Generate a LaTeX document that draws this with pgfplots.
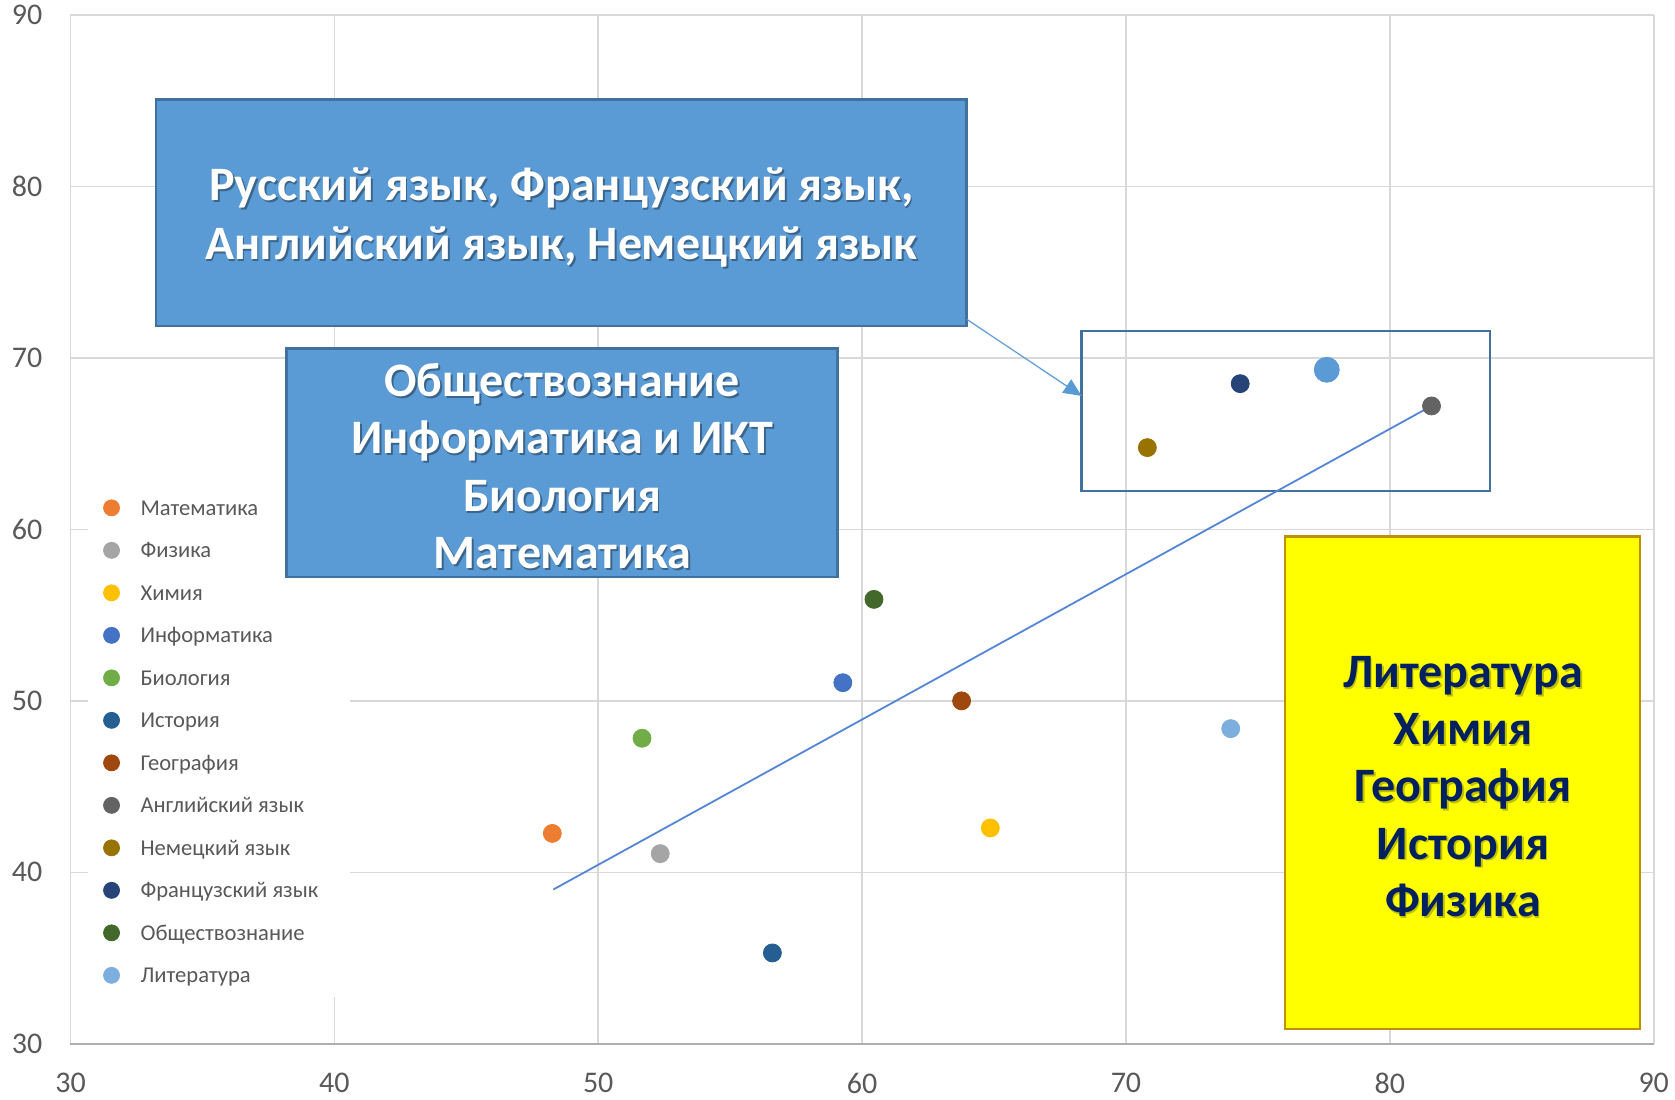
\documentclass[border=0pt]{standalone}
\usepackage{pgfplots}
\pgfplotsset{compat=1.18}
\usepackage{fontspec}
\setmainfont{Carlito}
\usetikzlibrary{arrows.meta}

\definecolor{cMat}{HTML}{ED7D31}
\definecolor{cFiz}{HTML}{A5A5A5}
\definecolor{cHim}{HTML}{FFC000}
\definecolor{cInf}{HTML}{4472C4}
\definecolor{cBio}{HTML}{70AD47}
\definecolor{cIst}{HTML}{255E91}
\definecolor{cGeo}{HTML}{9E480E}
\definecolor{cAng}{HTML}{636363}
\definecolor{cNem}{HTML}{997300}
\definecolor{cFra}{HTML}{264478}
\definecolor{cObs}{HTML}{43682B}
\definecolor{cLit}{HTML}{7CAFDD}
\definecolor{cRus}{HTML}{5B9BD5}
\definecolor{gridc}{HTML}{D9D9D9}
\definecolor{tickc}{HTML}{595959}
\definecolor{legc}{HTML}{595959}
\definecolor{boxblue}{HTML}{5B9BD5}
\definecolor{boxedge}{HTML}{41719C}
\definecolor{yel}{HTML}{FFFF00}
\definecolor{yeledge}{HTML}{BF9000}
\definecolor{navy}{HTML}{002060}
\definecolor{trend}{HTML}{5585D6}

\newcommand{\boxfont}[1]{\fontsize{24}{#1}\selectfont\bfseries}

\begin{document}
\begin{tikzpicture}
\useasboundingbox (-35.25pt,-27.65pt) rectangle (802.25pt,521.9pt);
\begin{axis}[
  at={(0pt,0pt)}, anchor=south west,
  scale only axis, width=791.6pt, height=514.4pt,
  xmin=30, xmax=90, ymin=30, ymax=90,
  xtick={30,40,...,90}, ytick={30,40,...,90},
  grid=major, major grid style={draw=gridc, line width=0.8pt},
  axis line style={draw=none},
  tick style={draw=none},
  tick label style={font=\fontsize{15}{18}\selectfont, text=tickc},
  /pgf/number format/assume math mode=true,
  xticklabel style={anchor=north, inner sep=0pt, yshift=-14.6pt},
  yticklabel style={anchor=east, inner sep=0pt, xshift=-13.9pt},
  clip=false,
  legend style={at={(axis cs:30.65,62.52)}, anchor=north west, draw=none, fill=none,
    inner sep=0pt, row sep=0pt, column sep=0pt,
    font=\fontsize{11.3}{13}\selectfont, text=legc,
    nodes={inner sep=0pt, text height=14.3pt, text depth=6.95pt}},
  legend cell align=left,
  legend image code/.code={\draw[draw=none, fill=none] (-11.75pt,0pt) -- (14.5pt,0pt); \draw[#1, only marks, mark size=4pt] plot coordinates {(0pt,0pt)};},
]
% bottom axis line
\draw[draw=gridc!80!black, line width=1pt] (rel axis cs:0,0) -- (rel axis cs:1,0);

% legend background
\fill[white] (axis cs:30.65,32.74) rectangle (axis cs:40.61,62.52);

% boxes
\filldraw[fill=boxblue, draw=boxedge, line width=1.2pt] (axis cs:33.24,71.87) rectangle (axis cs:63.96,85.08);
\filldraw[fill=boxblue, draw=boxedge, line width=1.2pt] (axis cs:38.18,57.23) rectangle (axis cs:59.07,70.56);
\filldraw[fill=yel, draw=yeledge, line width=1.2pt] (axis cs:76.03,30.87) rectangle (axis cs:89.47,59.59);
\draw[draw=boxedge, line width=1.3pt] (axis cs:68.32,62.25) rectangle (axis cs:83.79,71.57);
\draw[draw=boxblue, line width=0.6pt, -{Triangle[length=9pt,width=8pt]}] (axis cs:63.97,72.25) -- (axis cs:68.32,67.78);

% box texts (shadow + text)
\node[align=center, font=\boxfont{29.4}, text=black, opacity=0.35] at ([shift={(0.9pt,-0.9pt)}]axis cs:48.6,78.19) {Русский язык, Французский язык,\\Английский язык, Немецкий язык};
\node[align=center, font=\boxfont{29.4}, text=white] at (axis cs:48.6,78.19) {Русский язык, Французский язык,\\Английский язык, Немецкий язык};

\node[align=center, font=\boxfont{28.7}, text=black, opacity=0.35] at ([shift={(0.9pt,-0.9pt)}]axis cs:48.63,63.68) {Обществознание\\Информатика и ИКТ\\Биология\\Математика};
\node[align=center, font=\boxfont{28.7}, text=white] at (axis cs:48.63,63.68) {Обществознание\\Информатика и ИКТ\\Биология\\Математика};

\node[align=center, font=\boxfont{28.6}, text=black, opacity=0.25] at ([shift={(0.9pt,-0.9pt)}]axis cs:82.77,45.01) {Литература\\Химия\\География\\История\\Физика};
\node[align=center, font=\boxfont{28.6}, text=navy] at (axis cs:82.77,45.01) {Литература\\Химия\\География\\История\\Физика};

% trend line
\addplot[forget plot, color=trend, line width=0.9pt] coordinates {(48.30,39.0) (81.58,67.2)};

% Russian (not in legend)
\addplot[forget plot, only marks, mark=*, mark size=6.25pt, color=cRus] coordinates {(77.61,69.31)};

\addplot[only marks, mark=*, mark size=4.5pt, color=cMat] coordinates {(48.26,42.27)};
\addlegendentry{Математика}
\addplot[only marks, mark=*, mark size=4.5pt, color=cFiz] coordinates {(52.35,41.09)};
\addlegendentry{Физика}
\addplot[only marks, mark=*, mark size=4.5pt, color=cHim] coordinates {(64.86,42.59)};
\addlegendentry{Химия}
\addplot[only marks, mark=*, mark size=4.5pt, color=cInf] coordinates {(59.27,51.06)};
\addlegendentry{Информатика}
\addplot[only marks, mark=*, mark size=4.5pt, color=cBio] coordinates {(51.66,47.82)};
\addlegendentry{Биология}
\addplot[only marks, mark=*, mark size=4.5pt, color=cIst] coordinates {(56.60,35.30)};
\addlegendentry{История}
\addplot[only marks, mark=*, mark size=4.5pt, color=cGeo] coordinates {(63.77,50.00)};
\addlegendentry{География}
\addplot[only marks, mark=*, mark size=4.5pt, color=cAng] coordinates {(81.58,67.20)};
\addlegendentry{Английский язык}
\addplot[only marks, mark=*, mark size=4.5pt, color=cNem] coordinates {(70.81,64.77)};
\addlegendentry{Немецкий язык}
\addplot[only marks, mark=*, mark size=4.5pt, color=cFra] coordinates {(74.33,68.50)};
\addlegendentry{Французский язык}
\addplot[only marks, mark=*, mark size=4.5pt, color=cObs] coordinates {(60.45,55.92)};
\addlegendentry{Обществознание}
\addplot[only marks, mark=*, mark size=4.5pt, color=cLit] coordinates {(73.97,48.38)};
\addlegendentry{Литература}
\end{axis}
\end{tikzpicture}
\end{document}
